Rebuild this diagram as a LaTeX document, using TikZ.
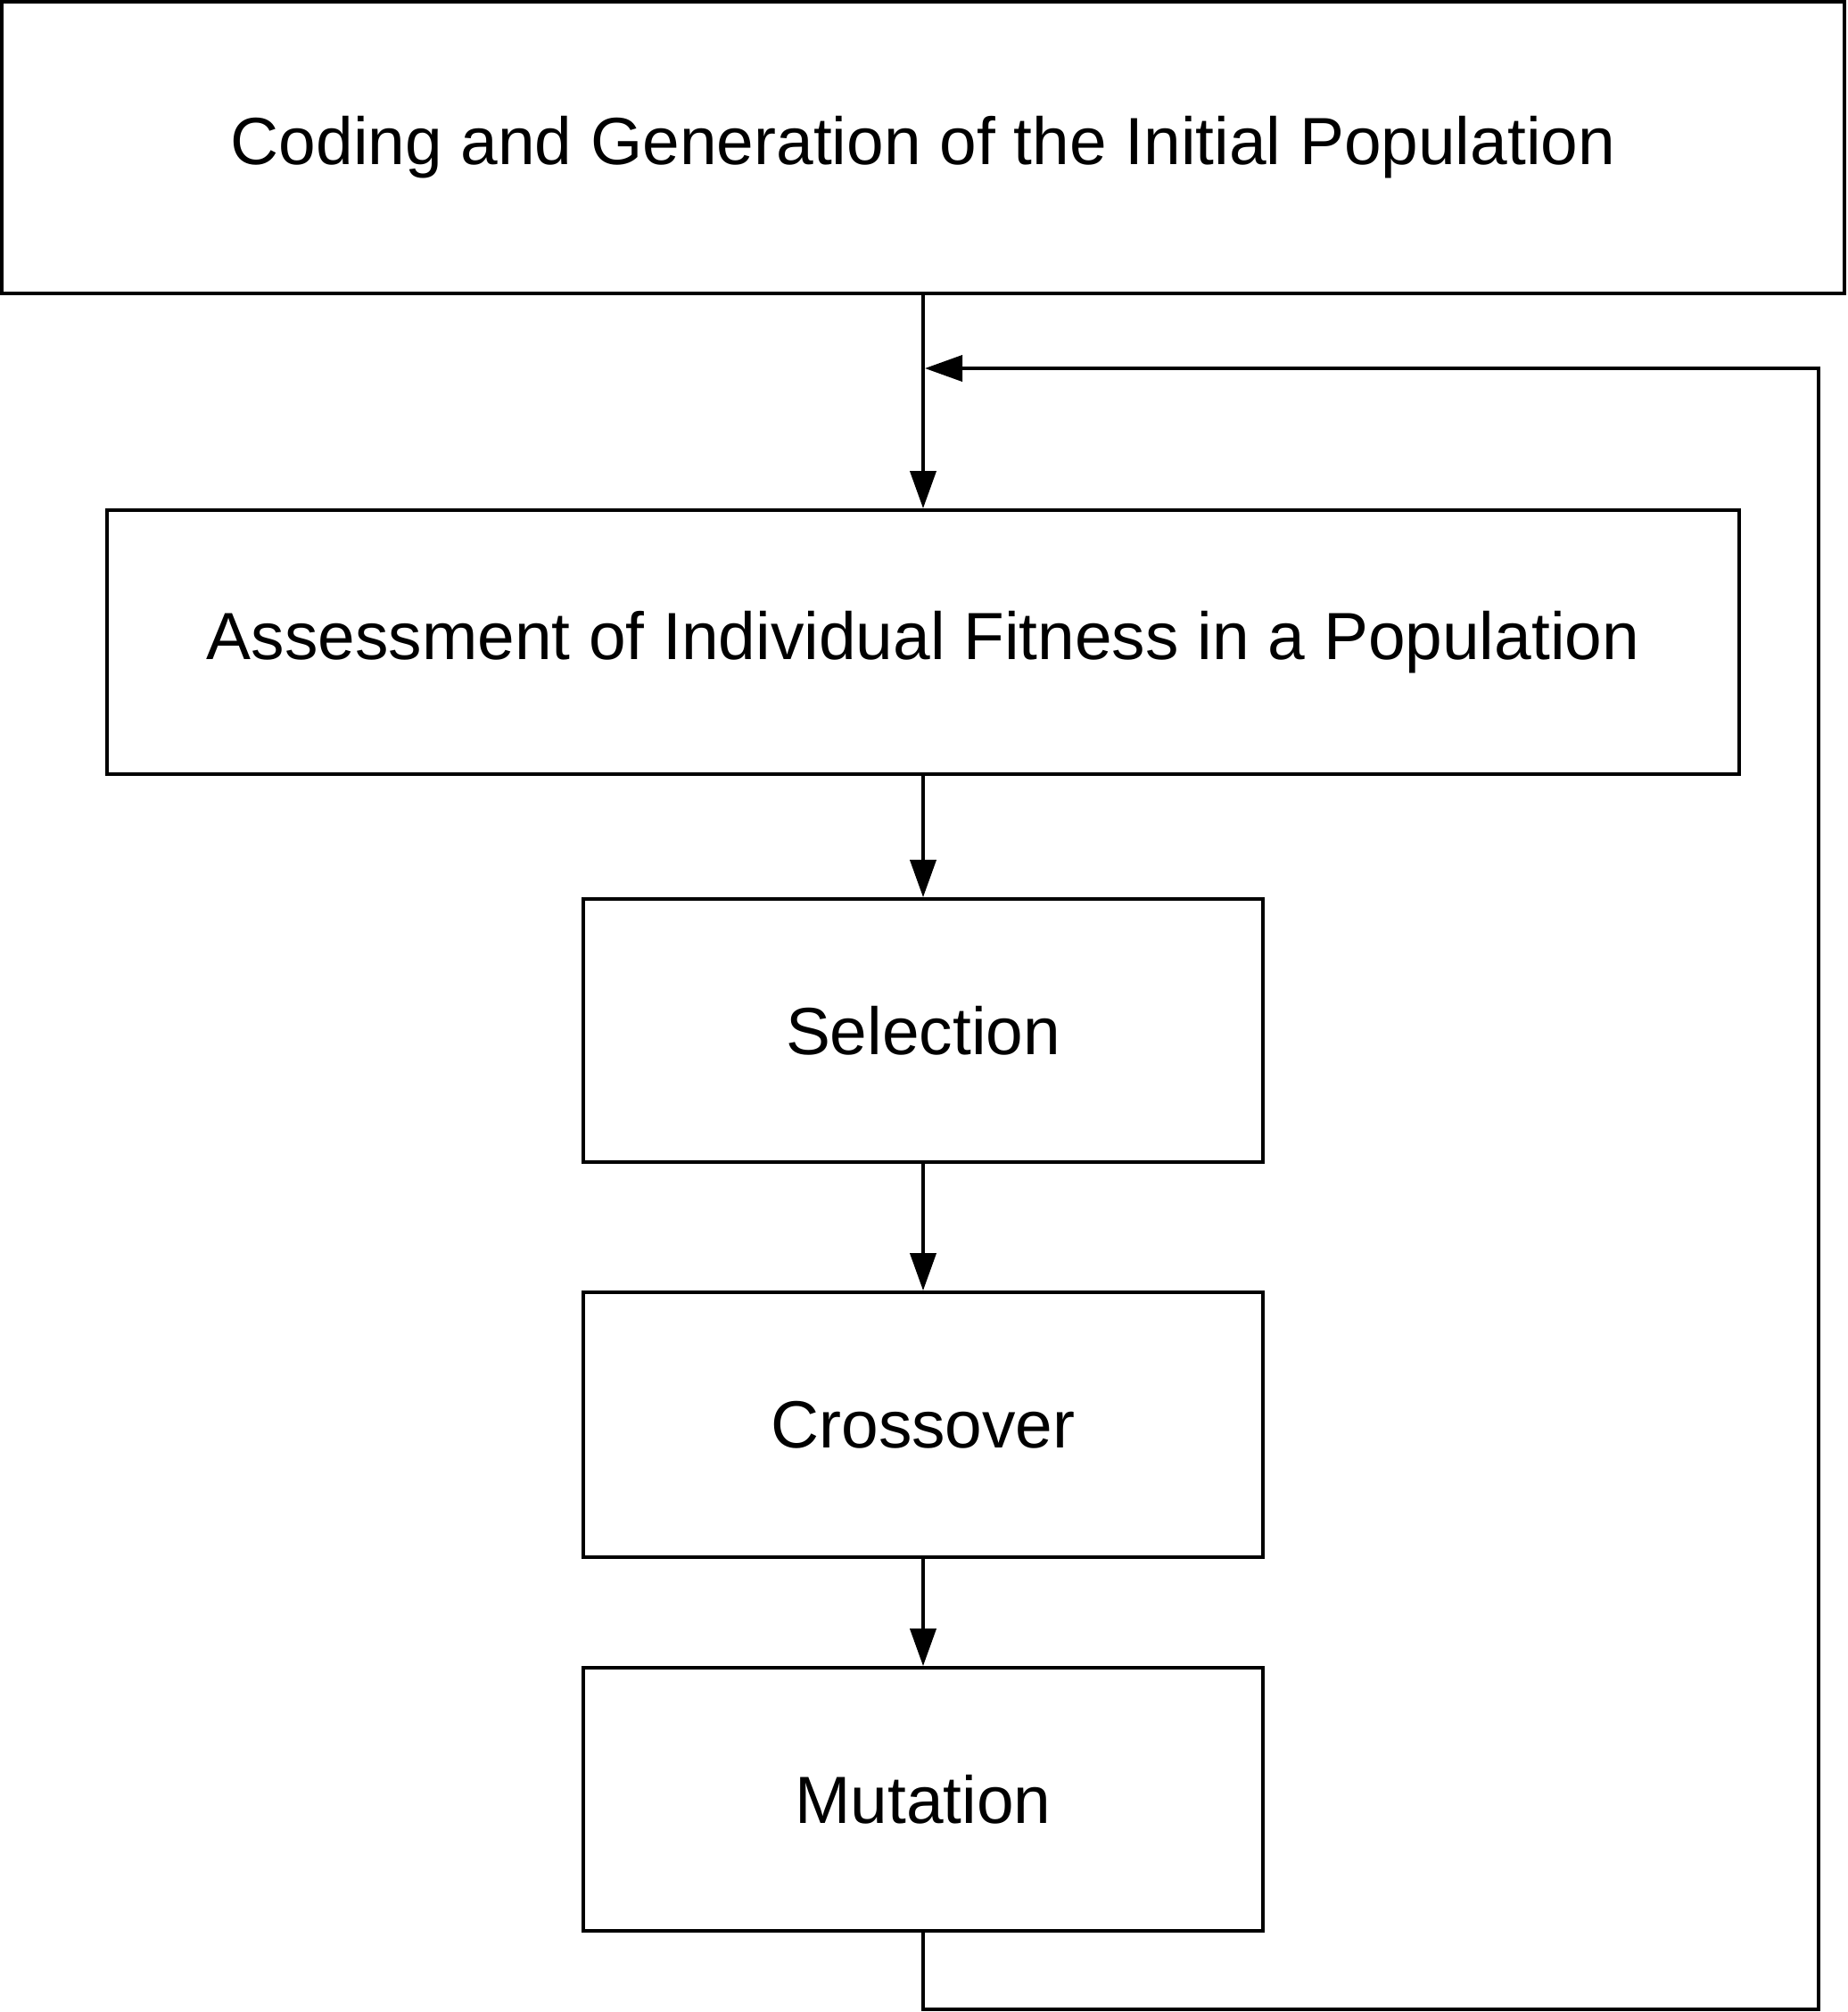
\documentclass[tikz,border=0pt]{standalone}
\usepackage{fontspec}
\setmainfont{Liberation Sans}
\usetikzlibrary{arrows.meta}
\usetikzlibrary{positioning}

\begin{document}
\begin{tikzpicture}[->,>={Triangle[length=4.2mm,width=2.9mm]},line width=1.1pt,
    proc node/.style={rectangle,draw,inner sep=0pt,font=\fontsize{21.3}{25}\selectfont,minimum height=2.96cm}]

   \useasboundingbox (0,0) rectangle (20.71,-22.56);

   % process boxes
   \node[proc node, minimum width=20.66cm, minimum height=3.27cm] (init) at (10.35,-1.655) {Coding and Generation of the Initial Population};
   \node[proc node, minimum width=18.30cm] (assess) at (10.35,-7.20) {Assessment of Individual Fitness in a Population};
   \node[proc node, minimum width=7.62cm, minimum height=2.95cm] (sel) at (10.35,-11.555) {Selection};
   \node[proc node, minimum width=7.62cm, minimum height=2.97cm] (cross) at (10.35,-15.975) {Crossover};
   \node[proc node, minimum width=7.62cm, minimum height=2.95cm] (mut) at (10.35,-20.175) {Mutation};

   \draw (init) -- (assess);
   \draw (assess) -- (sel);
   \draw (sel) -- (cross);
   \draw (cross) -- (mut);

   % loop back
   \coordinate (back) at (10.37,-4.13);
   \coordinate (low) at (20.39,-22.53);
   \coordinate (high) at (20.39,-4.13);
   \draw (mut.south) |- (low) -- (high) -- (back);
\end{tikzpicture}
\end{document}
